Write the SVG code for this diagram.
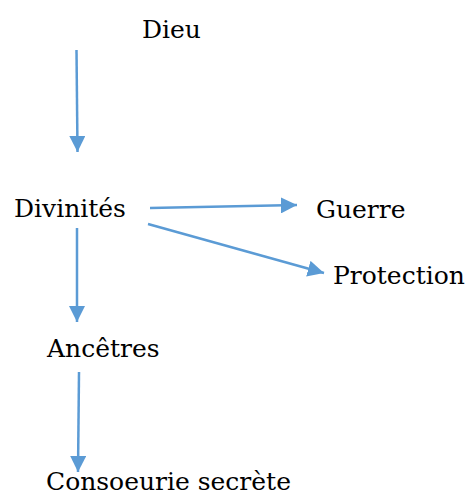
<svg xmlns="http://www.w3.org/2000/svg" width="466" height="495" viewBox="0 0 466 495">
  <style>
    text { font-family: "DejaVu Serif", serif; font-size: 25px; fill: #000; }
    .link { stroke: #5B9BD5; stroke-width: 2.5; fill: none; marker-end: url(#head); }
  </style>
  <defs>
    <marker id="head" viewBox="0 0 10 10" refX="10" refY="5" markerWidth="6.5" markerHeight="6.5" markerUnits="strokeWidth" orient="auto">
      <path d="M0,0 L10,5 L0,10 Z" fill="#5B9BD5"/>
    </marker>
  </defs>
  <rect width="466" height="495" fill="#fff"/>

  <g id="connectors">
    <line class="link" x1="76.5" y1="50" x2="77.5" y2="152"/>
    <line class="link" x1="150" y1="208" x2="297" y2="205"/>
    <line class="link" x1="148" y1="224" x2="324" y2="273"/>
    <line class="link" x1="77" y1="228" x2="77" y2="322"/>
    <line class="link" x1="79" y1="372" x2="78" y2="472"/>
  </g>

  <g id="dieu"><text x="142" y="38">Dieu</text></g>
  <g id="divinites"><text x="14" y="217">Divinités</text></g>
  <g id="guerre"><text x="316" y="218">Guerre</text></g>
  <g id="protection"><text x="333" y="284">Protection</text></g>
  <g id="ancetres"><text x="47" y="357">Ancêtres</text></g>
  <g id="confrerie"><text x="46" y="490">Consoeurie secrète</text></g>
</svg>
